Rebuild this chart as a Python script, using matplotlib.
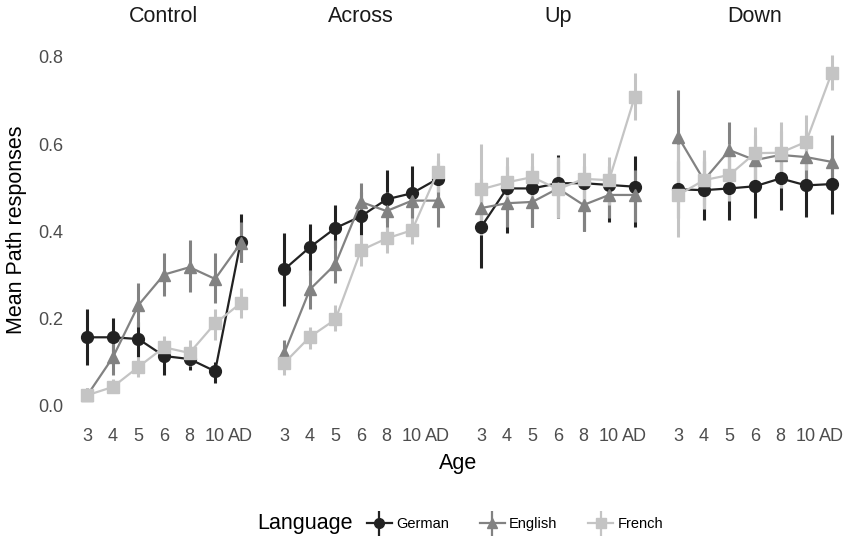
import numpy as np
import matplotlib
matplotlib.use("Agg")
import matplotlib.pyplot as plt
from matplotlib.lines import Line2D
from matplotlib.legend_handler import HandlerTuple

plt.rcParams['font.family'] = ['Liberation Sans', 'DejaVu Sans']

ages = ["3", "4", "5", "6", "8", "10", "AD"]
panels = ["Control", "Across", "Up", "Down"]
languages = ["German", "English", "French"]

# mean values per panel (rows follow ages)
german_mean = {
    "Control": [0.156, 0.156, 0.152, 0.113, 0.106, 0.078, 0.375],
    "Across": [0.312, 0.363, 0.407, 0.434, 0.473, 0.487, 0.520],
    "Up": [0.410, 0.498, 0.498, 0.510, 0.510, 0.506, 0.502],
    "Down": [0.496, 0.494, 0.498, 0.503, 0.521, 0.505, 0.508],
}
german_lo = {
    "Control": [0.092, 0.103, 0.110, 0.070, 0.080, 0.050, 0.330],
    "Across": [0.228, 0.300, 0.360, 0.390, 0.420, 0.430, 0.480],
    "Up": [0.315, 0.395, 0.410, 0.430, 0.400, 0.420, 0.410],
    "Down": [0.430, 0.425, 0.425, 0.430, 0.448, 0.432, 0.440],
}
german_hi = {
    "Control": [0.220, 0.200, 0.190, 0.130, 0.130, 0.100, 0.440],
    "Across": [0.395, 0.416, 0.460, 0.490, 0.540, 0.550, 0.560],
    "Up": [0.520, 0.550, 0.550, 0.575, 0.550, 0.550, 0.572],
    "Down": [0.560, 0.560, 0.570, 0.570, 0.590, 0.575, 0.580],
}

english_mean = {
    "Control": [0.023, 0.110, 0.230, 0.300, 0.317, 0.290, 0.372],
    "Across": [0.120, 0.266, 0.324, 0.467, 0.446, 0.470, 0.470],
    "Up": [0.453, 0.464, 0.467, 0.498, 0.460, 0.483, 0.483],
    "Down": [0.616, 0.517, 0.586, 0.563, 0.575, 0.570, 0.559],
}
english_lo = {
    "Control": [0.010, 0.070, 0.180, 0.250, 0.260, 0.235, 0.330],
    "Across": [0.090, 0.220, 0.280, 0.430, 0.400, 0.430, 0.410],
    "Up": [0.400, 0.410, 0.410, 0.440, 0.400, 0.430, 0.420],
    "Down": [0.500, 0.460, 0.520, 0.500, 0.520, 0.510, 0.500],
}
english_hi = {
    "Control": [0.040, 0.150, 0.280, 0.350, 0.380, 0.350, 0.420],
    "Across": [0.150, 0.310, 0.380, 0.510, 0.490, 0.500, 0.510],
    "Up": [0.510, 0.520, 0.530, 0.560, 0.520, 0.540, 0.540],
    "Down": [0.724, 0.570, 0.650, 0.620, 0.630, 0.630, 0.620],
}

french_mean = {
    "Control": [0.023, 0.042, 0.088, 0.133, 0.120, 0.188, 0.234],
    "Across": [0.097, 0.157, 0.197, 0.356, 0.383, 0.402, 0.536],
    "Up": [0.496, 0.512, 0.524, 0.496, 0.520, 0.517, 0.708],
    "Down": [0.483, 0.517, 0.529, 0.579, 0.580, 0.605, 0.763],
}
french_lo = {
    "Control": [0.010, 0.030, 0.065, 0.110, 0.090, 0.150, 0.200],
    "Across": [0.070, 0.130, 0.170, 0.320, 0.350, 0.370, 0.490],
    "Up": [0.390, 0.450, 0.460, 0.430, 0.460, 0.460, 0.655],
    "Down": [0.386, 0.450, 0.470, 0.500, 0.500, 0.540, 0.724],
}
french_hi = {
    "Control": [0.040, 0.060, 0.110, 0.160, 0.150, 0.220, 0.270],
    "Across": [0.120, 0.180, 0.230, 0.390, 0.410, 0.430, 0.580],
    "Up": [0.600, 0.570, 0.580, 0.570, 0.580, 0.570, 0.763],
    "Down": [0.600, 0.586, 0.600, 0.640, 0.650, 0.667, 0.805],
}

series = [
    ("German", german_mean, german_lo, german_hi, "#222222", "o"),
    ("English", english_mean, english_lo, english_hi, "#828282", "^"),
    ("French", french_mean, french_lo, french_hi, "#c4c4c4", "s"),
]

W, H = 846, 538
fig = plt.figure(figsize=(W / 100, H / 100), dpi=100)

left_px, pw, gap = 72, 184, 13
top_px, bot_px = 40, 420
x = np.arange(len(ages))
handles = []
for i, p in enumerate(panels):
    l = left_px + i * (pw + gap)
    ax = fig.add_axes([l / W, 1 - bot_px / H, pw / W, (bot_px - top_px) / H])
    for name, m, lo, hi, col, mk in series:
        mean = np.array(m[p])
        yerr = [mean - np.array(lo[p]), np.array(hi[p]) - mean]
        ax.errorbar(x, mean, yerr=yerr, color=col, marker=mk, ms=8.5,
                    lw=1.6, elinewidth=2.2, capsize=0, label=name)
        if i == 0:
            h1 = Line2D([], [], color=col, marker=mk, ms=7, lw=1.6)
            h2 = Line2D([], [], color=col, marker="|", ms=18, mew=1.6, lw=0)
            handles.append((h1, h2))
    ax.set_xlim(-0.6, 6.6)
    ax.set_ylim(-0.034, 0.839)
    ax.set_xticks(x)
    ax.set_xticklabels(ages)
    ax.set_yticks([0.0, 0.2, 0.4, 0.6, 0.8])
    if i == 0:
        ax.set_yticklabels(["0.0", "0.2", "0.4", "0.6", "0.8"])
    else:
        ax.set_yticklabels([])
    for s in ax.spines.values():
        s.set_visible(False)
    ax.tick_params(length=0, labelsize=13, labelcolor="#4d4d4d", pad=6)
    ax.set_title(p, fontsize=15.5, pad=13, color="#1a1a1a")

fig.text(458 / W, 1 - 463 / H, "Age", ha="center", va="center", fontsize=15.5)
fig.text(17 / W, 1 - 230 / H, "Mean Path responses", ha="center", va="center",
         rotation=90, fontsize=15.5)

fig.text(257 / W, 1 - 524 / H, "Language", ha="left", va="center", fontsize=15.5)
fig.legend(handles=handles, labels=languages, loc="center left",
           bbox_to_anchor=(361 / W, 1 - 524 / H), ncol=3, frameon=False,
           fontsize=10.5, handlelength=1.7, handletextpad=0.32,
           columnspacing=2.1, borderaxespad=0,
           handler_map={tuple: HandlerTuple(ndivide=1)})

fig.savefig("out.png", dpi=100)
